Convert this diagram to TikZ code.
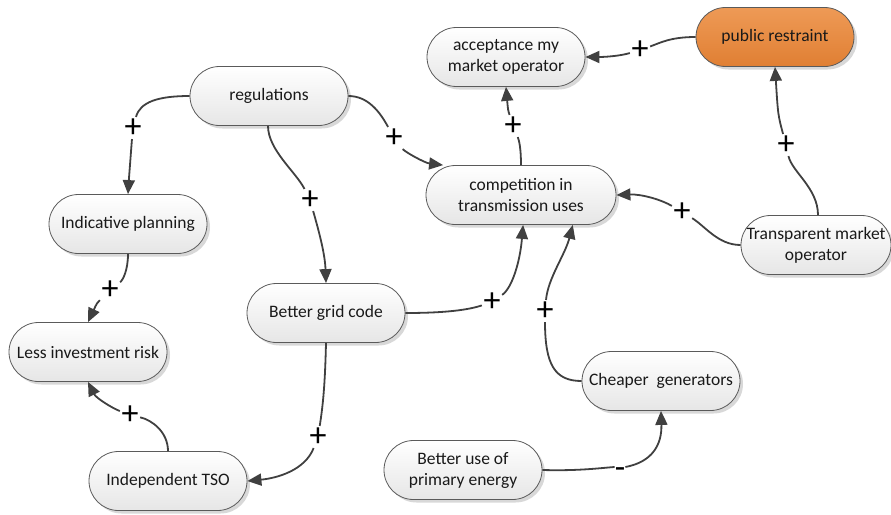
\documentclass[tikz,border=0pt]{standalone}
\usepackage{fontspec}
\setmainfont{Carlito}
\usetikzlibrary{arrows.meta,shadows}

\definecolor{linkgray}{HTML}{404040}
\definecolor{boxline}{HTML}{5A5A5A}
\definecolor{boxtop}{HTML}{FFFFFF}
\definecolor{boxbottom}{HTML}{E6E6E6}
\definecolor{hottop}{HTML}{EE9A56}
\definecolor{hotbottom}{HTML}{E07F33}

\tikzset{
  concept/.style={draw=boxline, line width=0.8pt, rounded corners=29.5pt,
    minimum width=158pt, minimum height=59pt, inner sep=2pt,
    top color=boxtop, bottom color=boxbottom, align=center,
    font=\fontsize{17.5}{21}\selectfont, text=black!90,
    drop shadow={shadow xshift=3pt, shadow yshift=-3pt, fill=black!30, opacity=0.5}},
  hot/.style={top color=hottop, bottom color=hotbottom},
  sign/.style={font=\fontsize{34}{34}\selectfont, inner sep=1.5pt, text=black},
  minus/.style={sign, inner sep=0pt, text height=23pt, text depth=0pt},
  link/.style={draw=linkgray, line width=1.8pt},
  arrowed/.style={-{Triangle[length=14pt,width=12pt]}}
}

\begin{document}
\begin{tikzpicture}[x=1pt, y=-1pt]
\useasboundingbox (0,0) rectangle (891,514);

% concepts
\node[concept] (acc) at (506,57) {acceptance my\\market operator};
\node[concept, hot] (pr) at (775,37) {public restraint};
\node[concept] (reg) at (269,96) {regulations};
\node[concept, minimum width=190pt] (comp) at (521,195) {competition in\\transmission uses};
\node[concept, minimum width=150pt] (tmo) at (816,245) {Transparent market\\operator};
\node[concept] (ip) at (128,224) {Indicative planning};
\node[concept] (bgc) at (326,313) {Better grid code};
\node[concept] (lir) at (88,352) {Less investment risk};
\node[concept] (cg) at (661,381) {Cheaper\ \ generators};
\node[concept] (bue) at (463,470) {Better use of\\primary energy};
\node[concept] (tso) at (168,481) {Independent TSO};

% polarity signs on the links
\node[sign] (s1) at (640,50) {+};
\node[sign] (s2) at (513,126) {+};
\node[sign] (s3) at (786,145) {+};
\node[sign] (s4) at (682,212) {+};
\node[sign] (s5) at (133,128) {+};
\node[sign] (s6) at (310,200) {+};
\node[sign] (s7) at (394,138) {+};
\node[sign] (s8) at (110,290) {+};
\node[sign] (s9) at (130,415) {+};
\node[sign] (s10) at (318,437) {+};
\node[sign] (s11) at (492,302) {+};
\node[sign] (s12) at (545,311) {+};
\node[minus] (s13) at (620,467) {-};

% causal links
\draw[link] (pr.west) .. controls (670,37) and (660,43) .. (s1);
\draw[link,arrowed] (s1) .. controls (620,56) and (605,57) .. (acc.east);

\draw[link] (comp.north) .. controls (521,148) and (519,140) .. (s2);
\draw[link,arrowed] (s2) .. controls (508,110) .. (acc.south);

\draw[link] ([xshift=2pt]tmo.north) .. controls (818,188) and (792,172) .. (s3);
\draw[link,arrowed] (s3) .. controls (778,115) .. (pr.south);

\draw[link] (tmo.west) .. controls (718,245) and (705,226) .. (s4);
\draw[link,arrowed] (s4) .. controls (662,200) and (642,194) .. (comp.east);

\draw[link] (reg.west) .. controls (158,96) and (140,102) .. (s5);
\draw[link,arrowed] (s5) .. controls (130,160) .. (ip.north);

\draw[link] ([xshift=-1pt]reg.south) .. controls (268,150) and (296,172) .. (s6);
\draw[link,arrowed] (s6) .. controls (320,235) and (325,255) .. (bgc.north);

\draw[link] (reg.east) .. controls (368,96) and (380,112) .. (s7);
\draw[link,arrowed] (s7) .. controls (405,152) and (425,163) .. (comp.159);

\draw[link] (ip.south) .. controls (128,270) and (123,280) .. (s8);
\draw[link,arrowed] (s8) .. controls (97,303) .. (lir.north);

\draw[link] (tso.north) .. controls (168,432) and (152,420) .. (s9);
\draw[link,arrowed] (s9) .. controls (112,408) and (96,398) .. (lir.south);

\draw[link] (bgc.south) .. controls (325,385) and (323,405) .. (s10);
\draw[link,arrowed] (s10) .. controls (305,470) and (278,478) .. (tso.east);

\draw[link] (bgc.east) .. controls (445,313) and (468,310) .. (s11);
\draw[link,arrowed] (s11) .. controls (512,288) and (520,262) .. (comp.-86);

\draw[link] (cg.west) .. controls (555,381) and (545,365) .. (s12);
\draw[link,arrowed] (s12) .. controls (548,278) and (565,255) .. (comp.-30);

\draw[link] (bue.east) .. controls (580,471) and (600,468) .. (s13.west);
\draw[link,arrowed] (s13.east) .. controls (652,462) and (662,445) .. (cg.south);
\end{tikzpicture}
\end{document}
